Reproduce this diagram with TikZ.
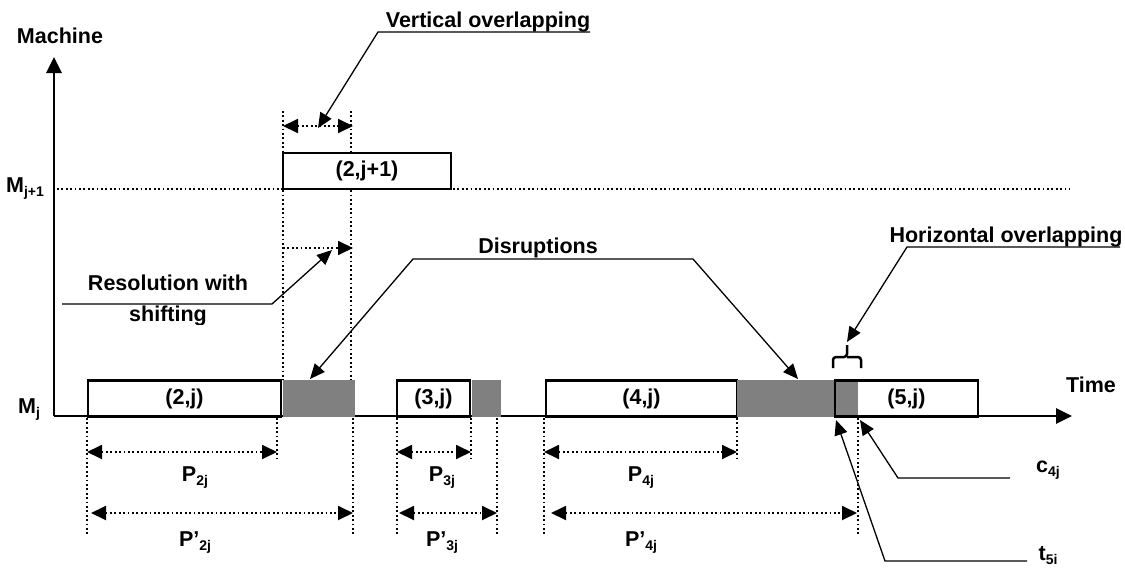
\documentclass[tikz,border=0pt]{standalone}
\usepackage{fontspec}
\setmainfont{Liberation Sans}
\usetikzlibrary{arrows.meta}
\newcommand\lowsub[1]{\raisebox{-0.35ex}{\fontsize{14}{14}\selectfont #1}}
\begin{document}
\begin{tikzpicture}[x=1pt,y=-1pt,
  lbl/.style={font=\fontsize{21.5}{24}\selectfont\bfseries, inner sep=0pt},
  job/.style={draw, line width=2.5pt, fill=white, minimum height=36pt, inner sep=0pt,
              font=\fontsize{21.5}{24}\selectfont\bfseries},
  dis/.style={fill=gray50, draw=none, minimum height=37pt, inner sep=0pt},
  guide/.style={line width=1.8pt, dash pattern=on 1.8pt off 2.6pt},
  dim/.style={guide, {Triangle[length=15pt,width=14pt]}-{Triangle[length=15pt,width=14pt]}},
  dimr/.style={guide, -{Triangle[length=15pt,width=14pt]}},
  leader/.style={line width=1.3pt, -{Triangle[length=15pt,width=13pt]}},
  axis/.style={line width=2.8pt, -{Triangle[length=16pt,width=15pt]}}
]
\definecolor{gray50}{HTML}{808080}
\useasboundingbox (0,0) rectangle (1125,568);
\fill[white] (0,0) rectangle (1125,568);

% axes
\coordinate (O) at (54,416);
\coordinate (ytip) at (54,57);
\coordinate (xtip) at (1072,416);
\draw[axis] (O) -- (ytip);
\draw[axis] (O) -- (xtip);
\node[lbl] (machine) at (60,36) {Machine};
\node[lbl] (time) at (1091,385) {Time};
\node[lbl] (mj) at (29,410) {M\lowsub{j}};
\node[lbl] (mj1) at (25,189) {M\lowsub{j+1}};
\coordinate (mjl) at (57,189);
\coordinate (mjr) at (1070,189);
\draw[guide] (mjl) -- (mjr);

% upper guides
\draw[guide] (283,111) -- (283,380);
\draw[guide] (351,111) -- (351,380);

% job on M_{j+1}
\node[job, minimum width=168pt, minimum height=36pt] (b21) at (367,171) {(2,j+1)};

% jobs on M_j
\node[job, minimum width=193pt] (b2) at (184.5,398.5) {(2,j)};
\node[dis, minimum width=72pt] (g1) at (319,398.5) {};
\node[job, minimum width=73pt] (b3) at (433.5,398.5) {(3,j)};
\node[dis, minimum width=29pt] (g2) at (486,398.5) {};
\node[job, minimum width=191pt] (b4) at (641.5,398.5) {(4,j)};
\node[dis, minimum width=121pt] (g3) at (797.5,398.5) {};
\node[job, minimum width=143pt,
  path picture={\fill[gray50] (path picture bounding box.north west) rectangle ++(23,40);}]
  (b5) at (906.5,398.5) {(5,j)};

% lower guides
\foreach \x/\y in {87/534, 277/459, 353/534, 397/534, 471/459, 497/534, 544/534, 737/459, 858/534}
  \draw[guide] (\x,418) -- (\x,\y);

% dimension arrows
\draw[dim] (283,126) -- (353,126);
\draw[dimr] (283,248) -- (353,248);
\draw[dim] (87,452) -- (277,452);
\draw[dim] (91,513) -- (353,513);
\draw[dim] (397,452) -- (471,452);
\draw[dim] (399,513) -- (497,513);
\draw[dim] (544,452) -- (737,452);
\draw[dim] (551,513) -- (857,513);

\node[lbl] (p2) at (195,478) {P\lowsub{2j}};
\node[lbl] (pp2) at (195,543) {P’\lowsub{2j}};
\node[lbl] (p3) at (442,478) {P\lowsub{3j}};
\node[lbl] (pp3) at (442,543) {P’\lowsub{3j}};
\node[lbl] (p4) at (641,478) {P\lowsub{4j}};
\node[lbl] (pp4) at (641,543) {P’\lowsub{4j}};

% Vertical overlapping
\node[lbl] (vo) at (488,22) {Vertical overlapping};
\coordinate (vo1) at (590,32);
\coordinate (vo2) at (378,32);
\coordinate (vot) at (318,128);
\draw[leader] (vo1) -- (vo2) -- (vot);

% Resolution with shifting
\node[lbl] (res) at (168,283) {Resolution with};
\begin{scope}
  \clip (60,296) rectangle (300,324);
  \node[lbl] (shift) at (168,316) {shifting};
\end{scope}
\coordinate (rs1) at (62,304);
\coordinate (rs2) at (272,304);
\coordinate (rst) at (332,250);
\draw[leader] (rs1) -- (rs2) -- (rst);

% Disruptions
\node[lbl] (disr) at (538,248) {Disruptions};
\coordinate (d1) at (310,379);
\coordinate (d2) at (413,259);
\coordinate (d3) at (693,259);
\coordinate (d4) at (798,379);
\draw[line width=1.3pt, {Triangle[length=15pt,width=13pt]}-{Triangle[length=15pt,width=13pt]}]
  (d1) -- (d2) -- (d3) -- (d4);

% Horizontal overlapping
\node[lbl] (ho) at (1006,237) {Horizontal overlapping};
\coordinate (ho1) at (1120,247);
\coordinate (ho2) at (907,247);
\coordinate (hot) at (847,342);
\draw[leader] (ho1) -- (ho2) -- (hot);
\draw[line width=2.5pt, rounded corners=3pt] (833,368) |- (847,357) -- (847,345);
\draw[line width=2.5pt, rounded corners=3pt] (861,368) |- (847,357);

% c4j and t5i
\node[lbl] (c4) at (1048,470) {c\lowsub{4j}};
\coordinate (c1) at (1010,478);
\coordinate (c2) at (898,478);
\coordinate (ct) at (860,420);
\draw[leader] (c1) -- (c2) -- (ct);
\node[lbl] (t5) at (1048,556) {t\lowsub{5i}};
\coordinate (t1) at (1027,561);
\coordinate (t2) at (885,561);
\coordinate (tt) at (836,420);
\draw[leader] (t1) -- (t2) -- (tt);
\end{tikzpicture}
\end{document}
